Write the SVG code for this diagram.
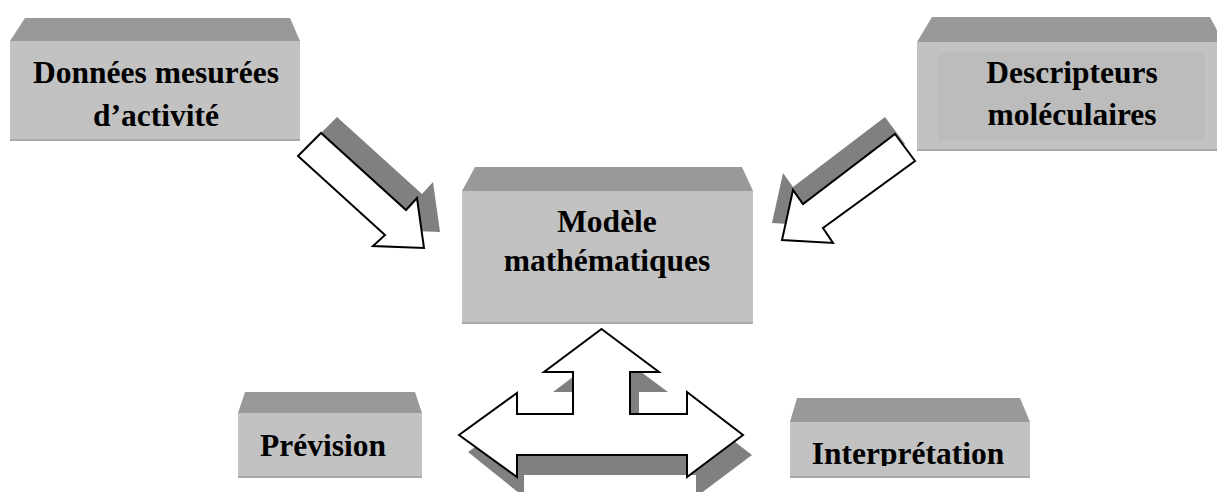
<svg xmlns="http://www.w3.org/2000/svg" width="1217" height="492" viewBox="0 0 1217 492">
<style>
.top{fill:#999999}
.front{fill:#c2c2c2}
.inner{fill:#bcbcbc}
.edge{stroke:#a9a9a9;stroke-width:2;fill:none}
.lbl{font-family:"Liberation Serif","Times New Roman",serif;font-weight:bold;font-size:31.5px;fill:#000;text-anchor:middle}
.arr{fill:#fff;stroke:#000;stroke-width:2;stroke-linejoin:miter}
.shd{fill:#808080}
</style>
<defs>
<clipPath id="clipInterp"><rect x="790" y="422" width="240" height="44"/></clipPath>
</defs>
<rect width="1217" height="492" fill="#fff"/>

<g id="connectors">
  <g id="arrow-donnees">
    <polygon class="shd" points="314,140 337,117 422,194 433,182 440,232 389,230 401,219"/>
    <polygon class="arr" points="298,156 321,133 406,210 417,198 424,248 373,246 385,235"/>
  </g>
  <g id="arrow-descripteurs">
    <polygon class="shd" points="885,117 905,144 813,211 823,226 772,223 783,173 793,187"/>
    <polygon class="arr" points="895,134 915,161 823,228 833,243 782,240 793,190 803,204"/>
  </g>
  <g id="arrow-modele-sorties">
    <polygon class="shd" points="610,349 668,392 639,392 639,434 696,434 696,412 752,455 696,497 696,475 524,475 524,497 468,452 524,413 524,434 582,434 582,392 553,392"/>
    <polygon class="arr" points="601.5,329 659,372 630,372 630,414 687,414 687,392 743,435 687,477 687,455 517,455 517,477 459,435 517,393 517,414 573,414 573,372 544,372"/>
  </g>
</g>

<g id="node-donnees">
  <polygon class="top" points="25,18 290,18 300,41 10,41"/>
  <rect class="front" x="10" y="41" width="290" height="99"/>
  <line class="edge" x1="10" y1="140" x2="300" y2="140"/>
  <text class="lbl" x="156" y="83">Données mesurées</text>
  <text class="lbl" x="156" y="126">d’activité</text>
</g>

<g id="node-descripteurs">
  <polygon class="top" points="932,17 1210,17 1217,30 1217,42 917,42"/>
  <rect class="front" x="917" y="42" width="300" height="108"/>
  <rect class="inner" x="938" y="53" width="267" height="87"/>
  <line class="edge" x1="917" y1="150" x2="1217" y2="150"/>
  <text class="lbl" x="1072" y="83">Descripteurs</text>
  <text class="lbl" x="1072" y="125">moléculaires</text>
</g>

<g id="node-modele">
  <polygon class="top" points="475,167 742,167 753,191 462,191"/>
  <rect class="front" x="462" y="191" width="291" height="132"/>
  <line class="edge" x1="462" y1="323" x2="753" y2="323"/>
  <text class="lbl" x="607" y="232">Modèle</text>
  <text class="lbl" x="607" y="271">mathématiques</text>
</g>

<g id="node-prevision">
  <polygon class="top" points="245,392 415,392 422,413 238,413"/>
  <rect class="front" x="238" y="413" width="184" height="64"/>
  <line class="edge" x1="238" y1="477" x2="422" y2="477"/>
  <text class="lbl" x="323" y="456">Prévision</text>
</g>

<g id="node-interpretation">
  <polygon class="top" points="797,398 1020,398 1030,422 790,422"/>
  <rect class="front" x="790" y="422" width="240" height="55"/>
  <line class="edge" x1="790" y1="477" x2="1030" y2="477"/>
  <text class="lbl" x="908" y="464" clip-path="url(#clipInterp)">Interprétation</text>
</g>
</svg>
